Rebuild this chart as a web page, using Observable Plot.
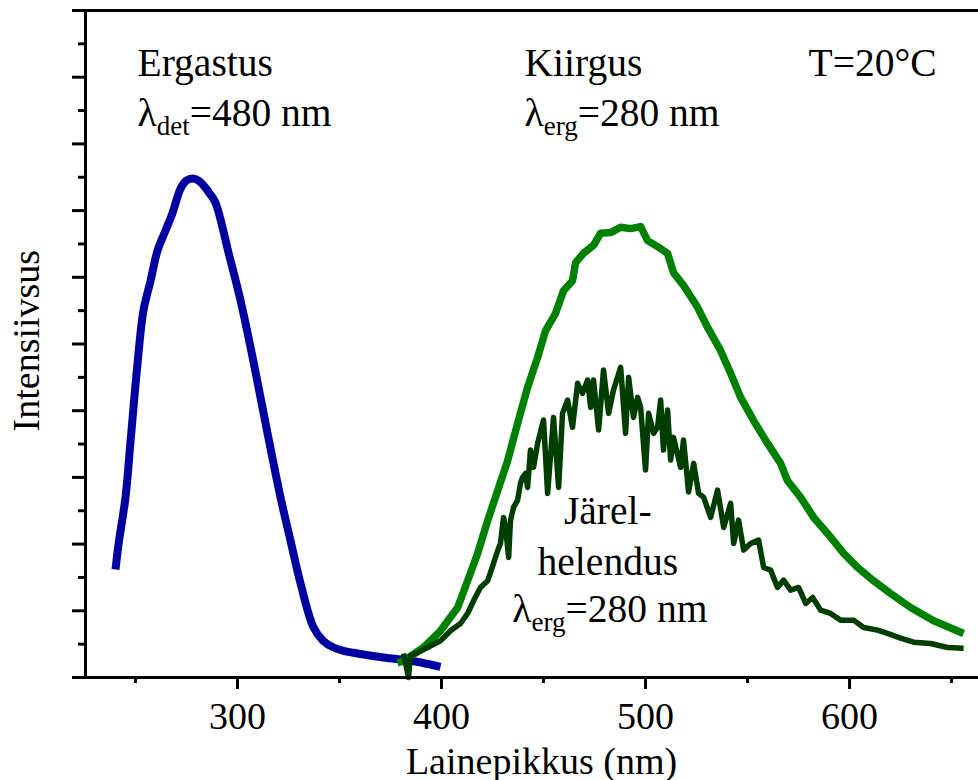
<!DOCTYPE html>
<html><head><meta charset="utf-8">
<script src="https://cdn.jsdelivr.net/npm/d3@7"></script>
<script src="https://cdn.jsdelivr.net/npm/@observablehq/plot@0.6"></script>
<style>body{margin:0;background:#fff}</style>
</head><body><div id="chart"></div>
<script>
// Excitation spectrum (Ergastus, λdet = 480 nm)
const excWl = [240.2, 241.7, 245.1, 247.6, 251.0, 253.9, 257.4, 260.8, 264.7, 268.1, 272.1, 275.0, 278.0, 280.9, 283.3, 286.5, 289.2, 295.6, 301.5, 307.4, 312.8, 321.1, 326.0, 330.9, 337.3, 342.0, 347.1, 352.0, 358.8, 371.6, 384.8, 392.0, 399.5];
const excI  = [1.62, 2.00, 2.70, 3.55, 4.71, 5.50, 5.95, 6.40, 6.70, 6.96, 7.33, 7.45, 7.48, 7.45, 7.38, 7.25, 7.12, 6.37, 5.65, 4.80, 3.96, 2.70, 2.05, 1.41, 0.75, 0.55, 0.45, 0.40, 0.36, 0.30, 0.25, 0.21, 0.16];
// Emission spectrum (Kiirgus, λerg = 280 nm)
const emWl = [378.4, 381.4, 391.2, 399.5, 407.9, 412.8, 417.7, 422.6, 427.5, 432.4, 437.3, 442.2, 447.1, 451.0, 455.9, 459.8, 464.2, 465.7, 469.6, 474.5, 478.0, 482.9, 487.8, 492.7, 497.6, 501.0, 505.9, 510.8, 513.7, 518.6, 525.5, 530.4, 536.8, 541.7, 546.6, 553.0, 559.8, 566.2, 569.6, 576.0, 582.4, 589.2, 597.1, 603.9, 611.8, 620.1, 629.9, 641.2, 655.9];
const emI  = [0.22, 0.25, 0.45, 0.70, 1.05, 1.45, 1.86, 2.35, 2.80, 3.25, 3.81, 4.35, 4.80, 5.20, 5.46, 5.80, 5.95, 6.22, 6.36, 6.48, 6.66, 6.67, 6.75, 6.73, 6.76, 6.55, 6.46, 6.36, 6.07, 5.88, 5.55, 5.25, 4.90, 4.56, 4.20, 3.85, 3.51, 3.21, 2.95, 2.70, 2.40, 2.16, 1.86, 1.65, 1.45, 1.26, 1.05, 0.85, 0.66];
// Afterglow spectrum (Järelhelendus, λerg = 280 nm)
const agWl = [381.4, 383.8, 384.8, 388.2, 393.1, 399.5, 404.4, 409.3, 412.8, 415.7, 419.1, 422.6, 425.5, 427.5, 428.9, 430.4, 431.4, 432.9, 433.8, 435.3, 437.3, 438.7, 439.7, 441.2, 442.2, 443.6, 445.1, 447.1, 450.0, 452.0, 454.9, 457.4, 459.3, 461.8, 464.2, 466.7, 469.1, 471.6, 473.1, 474.5, 477.0, 479.4, 481.9, 484.3, 487.8, 490.2, 491.7, 494.1, 496.1, 497.6, 500.0, 501.5, 504.0, 505.9, 507.4, 508.8, 510.8, 512.3, 513.7, 517.2, 518.6, 521.1, 523.6, 526.0, 528.5, 531.9, 535.3, 538.3, 541.7, 543.2, 545.6, 548.1, 551.5, 555.4, 557.9, 561.3, 564.7, 567.7, 571.1, 575.0, 578.5, 581.9, 585.8, 590.7, 595.6, 602.0, 606.9, 613.7, 618.6, 625.0, 631.4, 639.7, 648.1, 655.9];
const agI  = [0.36, 0.00, 0.33, 0.37, 0.45, 0.55, 0.70, 0.81, 0.96, 1.15, 1.35, 1.45, 1.71, 1.90, 2.01, 2.40, 2.25, 1.80, 2.35, 2.55, 2.66, 2.91, 3.00, 3.06, 2.85, 3.41, 3.15, 3.51, 3.86, 2.76, 3.90, 2.85, 3.96, 4.16, 3.75, 4.41, 4.26, 4.46, 4.05, 4.46, 3.71, 4.61, 3.96, 4.31, 4.65, 3.66, 4.50, 3.90, 4.20, 4.05, 3.11, 3.96, 3.66, 3.75, 4.16, 3.41, 4.01, 3.26, 3.60, 3.15, 3.56, 2.78, 3.21, 2.76, 2.70, 2.40, 2.81, 2.25, 2.61, 2.01, 2.36, 1.91, 2.01, 2.06, 1.65, 1.61, 1.35, 1.46, 1.31, 1.35, 1.11, 1.20, 1.01, 0.96, 0.86, 0.86, 0.75, 0.71, 0.66, 0.59, 0.53, 0.51, 0.45, 0.44];

const xMajorTicks = [300, 400, 500, 600];
const xMinorTicks = [250, 350, 450, 550, 650];
const yMajorTicks = [0, 1, 2, 3, 4, 5, 6, 7, 8, 9, 10];
const yMinorTicks = [0.5, 1.5, 2.5, 3.5, 4.5, 5.5, 6.5, 7.5, 8.5, 9.5];

const xLabel = "Lainepikkus (nm)";
const yLabel = "Intensiivsus";
// left-aligned annotations
const noteText = ["Ergastus", "λ_{det}=480 nm", "Kiirgus", "λ_{erg}=280 nm", "T=20°C"];
const noteX = [251.0, 251.0, 440.7, 440.7, 579.9];
const noteY = [9.02, 8.27, 9.02, 8.27, 9.02];
// centred annotations
const centerText = ["Järel-", "helendus", "λ_{erg}=280 nm"];
const centerX = [481.5, 481.5, 482.5];
const centerY = [2.30, 1.53, 0.83];

const xDomain = [225.5, 663.2];
const yDomain = [0, 10];
const FONT = "'Liberation Serif', 'Times New Roman', serif";
const blank = () => "";

const plot = Plot.plot({
  width: 978, height: 780,
  marginLeft: 85, marginRight: 0, marginTop: 10, marginBottom: 103,
  x: {domain: xDomain},
  y: {domain: yDomain},
  style: {fontFamily: FONT, fontSize: "38px", color: "#000", background: "#fff", overflow: "visible"},
  marks: [
    Plot.axisX({ticks: xMajorTicks, tickSize: 12, tickPadding: 13, strokeWidth: 3, label: null, fontSize: 38}),
    Plot.axisX({ticks: xMinorTicks, tickSize: 6, strokeWidth: 3, label: null, tickFormat: blank}),
    Plot.axisY({ticks: yMajorTicks, tickSize: 13, strokeWidth: 3, label: null, tickFormat: blank}),
    Plot.axisY({ticks: yMinorTicks, tickSize: 7, strokeWidth: 3, label: null, tickFormat: blank}),
    Plot.line(excWl, {x: excWl, y: excI, stroke: "#0000a0", strokeWidth: 8, curve: "catmull-rom", strokeLinecap: "butt"}),
    Plot.line(emWl, {x: emWl, y: emI, stroke: "#008000", strokeWidth: 7.5, strokeLinecap: "butt"}),
    Plot.line(agWl, {x: agWl, y: agI, stroke: "#003d00", strokeWidth: 5.5, strokeLinecap: "butt"}),
    Plot.ruleY([yDomain[0]], {stroke: "#000", strokeWidth: 3}),
    Plot.ruleY([yDomain[1]], {stroke: "#000", strokeWidth: 3}),
    Plot.ruleX([xDomain[0]], {stroke: "#000", strokeWidth: 3}),
    Plot.text(noteText, {x: noteX, y: noteY, text: d => d, textAnchor: "start", lineAnchor: "bottom", fontSize: 39.5, fill: "#000"}),
    Plot.text(centerText, {x: centerX, y: centerY, text: d => d, textAnchor: "middle", lineAnchor: "bottom", fontSize: 39.5, fill: "#000"}),
    Plot.text([xLabel], {x: [449], y: [0], text: d => d, dy: 96, textAnchor: "middle", lineAnchor: "bottom", fontSize: 38, fill: "#000"}),
    Plot.text([yLabel], {x: [xDomain[0]], y: [5.05], text: d => d, dx: -47, rotate: -90, textAnchor: "middle", lineAnchor: "bottom", fontSize: 38, fill: "#000"})
  ]
});

// turn "λ_{det}" into a real subscript
d3.select(plot).selectAll("text").each(function() {
  const t = this.textContent;
  const m = t.match(/^(.*)_\{(.*)\}(.*)$/);
  if (!m) return;
  const el = d3.select(this);
  el.text(null);
  el.append("tspan").text(m[1]);
  el.append("tspan").attr("font-size", "27px").attr("dy", "9").text(m[2]);
  el.append("tspan").attr("dy", "-9").text(m[3]);
});

document.getElementById("chart").appendChild(plot);
</script>
</body></html>
